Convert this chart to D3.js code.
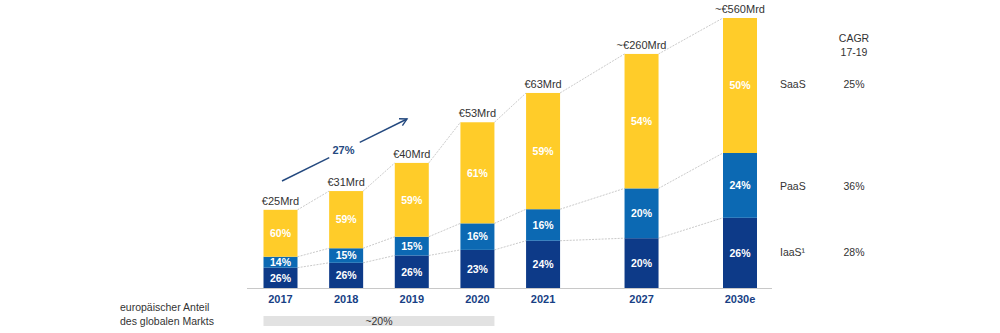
<!DOCTYPE html>
<html>
<head>
<meta charset="utf-8">
<script src="https://cdn.jsdelivr.net/npm/d3@7"></script>
<style>
  html, body { margin: 0; padding: 0; background: #fff; }
  svg { display: block; font-family: "Liberation Sans", Arial, sans-serif; }
</style>
</head>
<body>
<svg id="chart" width="1000" height="333"></svg>
<script>
// Cloud market volume (Mrd €) and segment shares per year
const years = ["2017", "2018", "2019", "2020", "2021", "2027", "2030e"];
const marketValues = [25, 31, 40, 53, 63, 260, 560];
const marketLabels = ["€25Mrd", "€31Mrd", "€40Mrd", "€53Mrd", "€63Mrd", "~€260Mrd", "~€560Mrd"];
const iaasShare = [26, 26, 26, 23, 24, 20, 26];
const paasShare = [14, 15, 15, 16, 16, 20, 24];
const saasShare = [60, 59, 59, 61, 59, 54, 50];

const segmentNames = ["SaaS", "PaaS", "IaaS¹"];
const cagrValues = ["25%", "36%", "28%"];
const cagrTitle = ["CAGR", "17-19"];
const overallCagr = "27%";
const euShareLabel = ["europäischer Anteil", "des globalen Markts"];
const euShareValue = "~20%";

const rows = years.map((y, i) => ({
  year: y, value: marketValues[i], label: marketLabels[i],
  iaas: iaasShare[i], paas: paasShare[i], saas: saasShare[i]
}));

const colors = { iaas: "#0d3a88", paas: "#0c69b3", saas: "#ffcc29" };
const navy = "#173f85";
const textGrey = "#333";

const svg = d3.select("#chart");
const baseY = 288;
const barW = 34;

// horizontal slots: the later forecast years sit further apart
const slot = [0, 1, 2, 3, 4, 5.5, 7];
const x = d3.scaleLinear().domain([0, 7]).range([280.5, 740]);
const cx = i => x(slot[i]);

// broken value axis: linear up to 2021, compressed for forecasts
const y = d3.scaleLinear().domain([0, 63, 260, 560]).range([baseY, 91, 39, 18]);

const stack = d3.stack().keys(["iaas", "paas", "saas"]);
const series = stack(rows);

// share (%) inside a bar -> pixel y
const yShare = (i, p) => {
  const full = baseY - y(rows[i].value);
  return baseY - full * p / 100;
};

// dotted connectors between bar boundaries
const levels = [
  r => r.iaas,
  r => r.iaas + r.paas,
  r => r.iaas + r.paas + r.saas
];
const conn = svg.append("g");
levels.forEach(f => {
  for (let i = 0; i < rows.length - 1; i++) {
    conn.append("line")
      .attr("x1", cx(i) + barW / 2).attr("y1", yShare(i, f(rows[i])))
      .attr("x2", cx(i + 1) - barW / 2).attr("y2", yShare(i + 1, f(rows[i + 1])))
      .attr("stroke", "#c4c4c4").attr("stroke-width", 0.9)
      .attr("stroke-dasharray", "2,1.2");
  }
});

// stacked bars
series.forEach(s => {
  const g = svg.append("g");
  g.selectAll("rect").data(s).enter().append("rect")
    .attr("x", (d, i) => cx(i) - barW / 2)
    .attr("width", barW)
    .attr("y", (d, i) => yShare(i, d[1]))
    .attr("height", (d, i) => yShare(i, d[0]) - yShare(i, d[1]))
    .attr("fill", colors[s.key]);
  g.selectAll("text").data(s).enter().append("text")
    .attr("x", (d, i) => cx(i))
    .attr("y", (d, i) => (yShare(i, d[0]) + yShare(i, d[1])) / 2 + 3.8)
    .attr("text-anchor", "middle")
    .attr("fill", "#fff")
    .attr("font-weight", "bold")
    .attr("font-size", 10.5)
    .text(d => (d[1] - d[0]) + "%");
});

// market volume labels
svg.append("g").selectAll("text").data(rows).enter().append("text")
  .attr("x", (d, i) => cx(i))
  .attr("y", (d, i) => yShare(i, d.iaas + d.paas + d.saas) - 5)
  .attr("text-anchor", "middle")
  .attr("fill", textGrey)
  .attr("font-size", 11)
  .text(d => d.label);

// baseline
svg.append("line")
  .attr("x1", 247).attr("x2", 772)
  .attr("y1", baseY + 0.5).attr("y2", baseY + 0.5)
  .attr("stroke", "#c8c8c8").attr("stroke-width", 1);

// year labels
svg.append("g").selectAll("text").data(rows).enter().append("text")
  .attr("x", (d, i) => cx(i))
  .attr("y", 303)
  .attr("text-anchor", "middle")
  .attr("fill", navy)
  .attr("font-weight", "bold")
  .attr("font-size", 11)
  .text(d => d.year);

// overall growth arrow 2017-2019
const a0 = [282, 181], a1 = [407, 119];
const mid = [(a0[0] + a1[0]) / 2, (a0[1] + a1[1]) / 2];
const ux = (a1[0] - a0[0]), uy = (a1[1] - a0[1]);
const len = Math.hypot(ux, uy);
const gap = 17;
const arrow = svg.append("g").attr("stroke", "#24497f").attr("stroke-width", 1.4).attr("fill", "none");
arrow.append("line")
  .attr("x1", a0[0]).attr("y1", a0[1])
  .attr("x2", mid[0] - ux / len * gap).attr("y2", mid[1] - uy / len * gap);
arrow.append("line")
  .attr("x1", mid[0] + ux / len * gap).attr("y1", mid[1] + uy / len * gap)
  .attr("x2", a1[0]).attr("y2", a1[1]);
const ang = Math.atan2(uy, ux);
const hl = 8;
arrow.append("path")
  .attr("d", `M${a1[0] - hl * Math.cos(ang - 0.5)},${a1[1] - hl * Math.sin(ang - 0.5)} L${a1[0]},${a1[1]} L${a1[0] - hl * Math.cos(ang + 0.5)},${a1[1] - hl * Math.sin(ang + 0.5)}`);
svg.append("text")
  .attr("x", mid[0] - 1).attr("y", mid[1] + 4)
  .attr("text-anchor", "middle")
  .attr("fill", "#24497f")
  .attr("font-weight", "bold")
  .attr("font-size", 11)
  .text(overallCagr);

// CAGR column on the right
const right = svg.append("g").attr("fill", textGrey).attr("font-size", 10.5);
cagrTitle.forEach((t, k) => {
  right.append("text").attr("x", 854).attr("y", 42 + k * 14)
    .attr("text-anchor", "middle").text(t);
});
const segY = [88, 190, 256];
segmentNames.forEach((n, k) => {
  right.append("text").attr("x", 780).attr("y", segY[k]).text(n);
  right.append("text").attr("x", 854).attr("y", segY[k])
    .attr("text-anchor", "middle").text(cagrValues[k]);
});

// European share of the global market (band under 2017-2020)
svg.append("rect")
  .attr("x", cx(0) - barW / 2).attr("y", 316)
  .attr("width", cx(3) + barW / 2 - (cx(0) - barW / 2)).attr("height", 10)
  .attr("fill", "#e2e2e2");
const bottom = svg.append("g").attr("fill", textGrey).attr("font-size", 10.5);
euShareLabel.forEach((t, k) => {
  bottom.append("text").attr("x", 120).attr("y", 311 + k * 14).text(t);
});
bottom.append("text")
  .attr("x", (cx(0) + cx(3)) / 2).attr("y", 324.5)
  .attr("text-anchor", "middle").text(euShareValue);
</script>
</body>
</html>
